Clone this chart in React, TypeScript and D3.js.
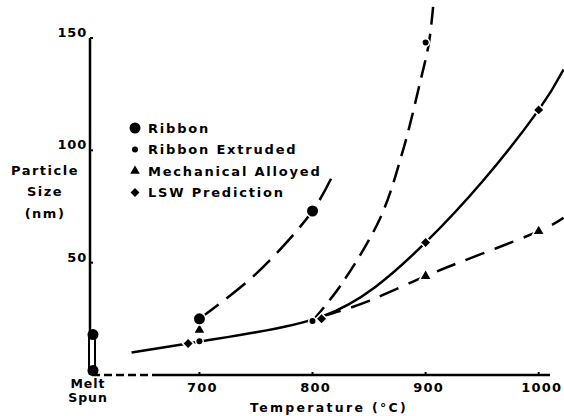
import React from "react";
import * as d3 from "d3";

// axis ticks
const xTicks = [700, 800, 900, 1000];
const yTicks = [50, 100, 150];
const MELT_X = 605; // position used for the "Melt Spun" column

// measured points (°C, nm)
const ribbon = [[700, 25], [800, 73]];
const ribbonExtruded = [[700, 15], [800, 24], [900, 148]];
const mechAlloyed = [[700, 20], [900, 44], [1000, 64]];
const lswPrediction = [[690, 14], [808, 25], [900, 59], [1000, 118]];
const meltSpun = [18, 2];

// hand-drawn trend curves
const ribbonCurve = [[700, 25], [750, 45], [800, 73], [817, 88]];
const extrudedCurve = [[800, 24], [825, 40], [860, 70], [880, 100], [895, 130], [903, 148], [907, 166]];
const mechCurve = [[808, 26], [850, 33], [900, 44], [950, 54], [1000, 64], [1022, 70]];
const lswCurve = [[640, 10], [690, 14], [750, 19], [808, 26], [855, 39], [900, 59], [950, 86], [1000, 118], [1022, 136]];

const legendItems = ["Ribbon", "Ribbon Extruded", "Mechanical Alloyed", "LSW Prediction"];

const FONT = "'DejaVu Sans', Arial, sans-serif";

const x = d3.scaleLinear().domain([MELT_X, 1010]).range([92, 550]);
const y = d3.scaleLinear().domain([0, 150]).range([375, 38]);

const line = d3
  .line<number[]>()
  .x((d) => x(d[0]))
  .y((d) => y(d[1]))
  .curve(d3.curveCatmullRom.alpha(0.5));

const smooth = d3
  .line<number[]>()
  .x((d) => x(d[0]))
  .y((d) => y(d[1]))
  .curve(d3.curveNatural);

const Marker = ({ kind, cx, cy }: { kind: string; cx: number; cy: number }) => {
  const halo = { stroke: "#fff", strokeWidth: 3, paintOrder: "stroke" as const };
  if (kind === "circle") return <circle cx={cx} cy={cy} r={5.5} fill="#000" {...halo} />;
  if (kind === "dot") return <circle cx={cx} cy={cy} r={3} fill="#000" {...halo} />;
  if (kind === "triangle") {
    const p = d3.symbol(d3.symbolTriangle, 40)();
    return <path d={p!} transform={`translate(${cx},${cy})`} fill="#000" {...halo} />;
  }
  const p = d3.symbol(d3.symbolSquare, 40)();
  return <path d={p!} transform={`translate(${cx},${cy}) rotate(45)`} fill="#000" {...halo} />;
};

const kinds = ["circle", "dot", "triangle", "diamond"];

export default function App() {
  const textStyle = { fontFamily: FONT, fontWeight: 700, fill: "#000" };
  return (
    <svg width={564} height={416} style={{ position: "absolute", left: 0, top: 0, background: "#fff" }}>
      {/* y axis */}
      <line x1={90} x2={90} y1={y(0)} y2={y(150)} stroke="#000" strokeWidth={2.5} />
      {yTicks.map((t) => (
        <g key={t}>
          <line x1={90} x2={93} y1={y(t)} y2={y(t)} stroke="#000" strokeWidth={2} />
          <text x={87} y={y(t) - 1} textAnchor="end" fontSize={13} letterSpacing={0.8} style={textStyle}>
            {t}
          </text>
        </g>
      ))}
      <g style={textStyle} fontSize={13} letterSpacing={1.5} textAnchor="middle">
        <text x={45} y={175}>Particle</text>
        <text x={45} y={196}>Size</text>
        <text x={45} y={218}>(nm)</text>
      </g>

      {/* x axis: broken (dashed) near melt spun, then solid */}
      <line x1={92} x2={160} y1={375} y2={375} stroke="#000" strokeWidth={2.5} strokeDasharray="8,4" />
      <line x1={160} x2={550} y1={375} y2={375} stroke="#000" strokeWidth={2.5} />
      {xTicks.map((t) => (
        <g key={t}>
          <line x1={x(t)} x2={x(t)} y1={375} y2={372} stroke="#000" strokeWidth={2} />
          <text x={x(t) + 3} y={392} textAnchor="middle" fontSize={13} letterSpacing={1.2} style={textStyle}>
            {t}
          </text>
        </g>
      ))}
      <g style={textStyle} fontSize={12.5} letterSpacing={1} textAnchor="middle">
        <text x={88} y={388}>Melt</text>
        <text x={88} y={402}>Spun</text>
      </g>
      <text x={329} y={412} textAnchor="middle" fontSize={12.5} letterSpacing={2.3} style={textStyle}>
        Temperature (°C)
      </text>

      {/* melt spun column */}
      <rect
        x={x(MELT_X) - 3}
        y={y(meltSpun[0])}
        width={6}
        height={y(meltSpun[1]) - y(meltSpun[0])}
        fill="#fff"
        stroke="#000"
        strokeWidth={2}
      />
      {meltSpun.map((v, i) => (
        <circle key={i} cx={x(MELT_X) + 1} cy={y(v)} r={5.5} fill="#000" />
      ))}

      {/* trend curves */}
      <path d={smooth(lswCurve)!} fill="none" stroke="#000" strokeWidth={2.5} />
      <path d={line(ribbonCurve)!} fill="none" stroke="#000" strokeWidth={2.5} strokeDasharray="24,10" />
      <path d={line(extrudedCurve)!} fill="none" stroke="#000" strokeWidth={2.5} strokeDasharray="18,9" />
      <path d={smooth(mechCurve)!} fill="none" stroke="#000" strokeWidth={2.5} strokeDasharray="20,11" />

      {/* markers */}
      {lswPrediction.map((d, i) => (
        <Marker key={"l" + i} kind="diamond" cx={x(d[0])} cy={y(d[1])} />
      ))}
      {mechAlloyed.map((d, i) => (
        <Marker key={"m" + i} kind="triangle" cx={x(d[0])} cy={y(d[1])} />
      ))}
      {ribbonExtruded.map((d, i) => (
        <Marker key={"e" + i} kind="dot" cx={x(d[0])} cy={y(d[1])} />
      ))}
      {ribbon.map((d, i) => (
        <Marker key={"r" + i} kind="circle" cx={x(d[0])} cy={y(d[1])} />
      ))}

      {/* legend */}
      {legendItems.map((name, i) => {
        const ly = 128 + i * 21.5;
        return (
          <g key={name}>
            <Marker kind={kinds[i]} cx={135} cy={ly} />
            <text x={148} y={ly} dominantBaseline="central" fontSize={13} letterSpacing={1.8} style={textStyle}>
              {name}
            </text>
          </g>
        );
      })}
    </svg>
  );
}
